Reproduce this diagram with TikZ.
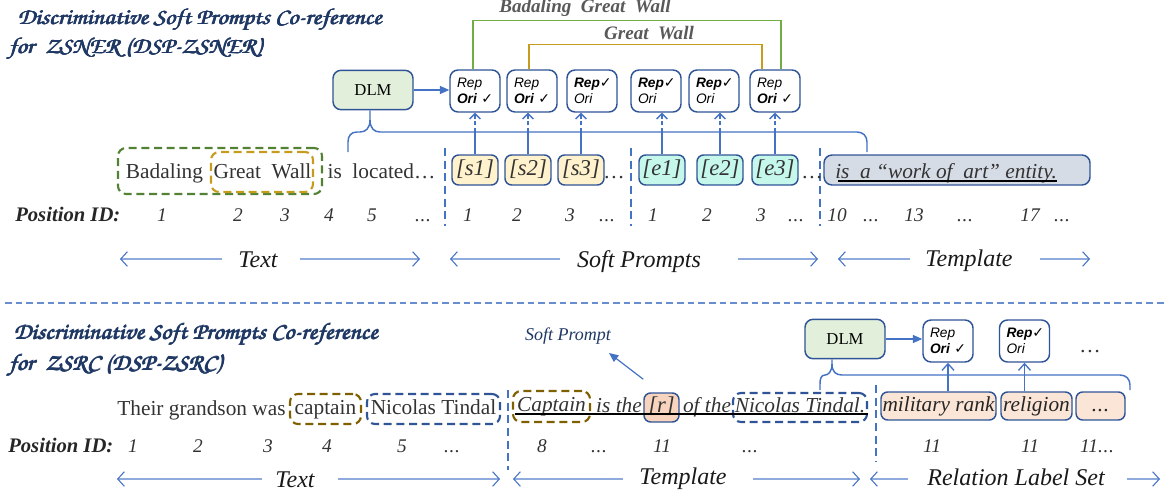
\documentclass[tikz,border=0pt]{standalone}
\usepackage[T1,TU]{fontenc}
\usepackage{fontspec}
\setmainfont{Liberation Serif}
\newfontfamily\sansfnt{Liberation Sans}
\newfontfamily\symfnt{DejaVu Sans}
\usepackage{graphicx}
\usetikzlibrary{arrows.meta,calc}
\newcommand\titlefnt{\fontencoding{T1}\fontfamily{pzc}\fontseries{mb}\fontshape{it}\selectfont}
\newcommand\pbold[1]{\rlap{#1}\kern0.3pt\rlap{#1}\kern0.3pt\rlap{\raisebox{0.2pt}{#1}}#1}
\newcommand\ttltext[1]{\scalebox{1.1}[1]{\pbold{#1}}}
\newcommand\fs[2]{\fontsize{#1}{#2}\selectfont}
\newcommand\chk{{\symfnt\upshape\fontsize{10.5}{12}\selectfont ✓}}
\newcommand\repA{\mbox{Rep}\\\mbox{\textbf{Ori}~\chk}}
\newcommand\repB{\mbox{\textbf{Rep}\chk}\\\mbox{Ori}}
\newcommand\ddd{.\kern0.5pt.\kern0.5pt.}
\definecolor{blueln}{HTML}{4472C4}
\definecolor{boxbd}{HTML}{2F5597}
\definecolor{navy}{HTML}{1F3864}
\definecolor{greenln}{HTML}{70AD47}
\definecolor{greendash}{HTML}{548235}
\definecolor{goldln}{HTML}{C69C1E}
\definecolor{brownd}{HTML}{7F6000}
\definecolor{dlmfill}{HTML}{E2EFDA}
\definecolor{yelfill}{HTML}{FFF2CC}
\definecolor{cyanfill}{HTML}{C5F8EA}
\definecolor{tplfill}{HTML}{D6DCE5}
\definecolor{peach}{HTML}{FBE5D6}
\definecolor{rfill}{HTML}{F8D3BE}
\definecolor{txtgray}{HTML}{333333}
\definecolor{lblln}{HTML}{8FAADC}
\tikzset{
 every node/.style={inner sep=0pt},
 bx/.style={draw=boxbd, line width=1.1pt, rounded corners=5pt},
 dlmbox/.style={bx, fill=dlmfill, rounded corners=6pt, minimum width=60pt, minimum height=29.5pt, font=\fs{12.5}{15}},
 repbox/.style={bx, fill=white, rounded corners=6pt, minimum width=37.5pt, minimum height=31.5pt, align=left, text width=27pt, font=\sansfnt\itshape\fs{10.3}{12}},
 boxtxt/.style={text height=11pt, text depth=3.5pt},
 sbox/.style={bx, boxtxt, fill=yelfill, minimum width=34.5pt, minimum height=22.5pt, font=\itshape\fs{17}{19}, text=txtgray},
 ebox/.style={sbox, fill=cyanfill},
 tplbox/.style={bx, fill=tplfill, rounded corners=6pt, minimum width=199.5pt, minimum height=22.5pt},
 relbox/.style={bx, boxtxt, fill=peach, minimum height=21pt, font=\itshape\fs{16}{18}, text=black!85},
 rbox/.style={bx, boxtxt, fill=rfill, minimum width=26.25pt, minimum height=21.75pt, font=\itshape\fs{17}{19}, text=txtgray},
 dbox/.style={boxtxt, line width=1.6pt, dash pattern=on 6pt off 3.5pt, rounded corners=6pt},
 txt/.style={font=\fs{16}{19}, text=txtgray},
 itxt/.style={font=\itshape\fs{16}{19}, text=txtgray},
 num/.style={font=\itshape\fs{14.5}{17}, text=txtgray, anchor=base},
 pid/.style={font=\bfseries\itshape\fs{15.5}{18}, text=black!85, anchor=base west},
 lbl/.style={font=\itshape\fs{18}{21}, text=black!90, anchor=base},
 lblarr/.style={draw=lblln, line width=1pt, -{Straight Barb[length=5pt,width=11pt,line width=0.8pt,color=blueln]}},
 ttl/.style={anchor=base west, text=navy, font=\titlefnt\fs{17}{20}},
 connlbl/.style={anchor=base, font=\bfseries\itshape\fs{14.3}{16}, text=black!65},
 brace/.style={draw=blueln, line width=1.1pt},
 upl/.style={draw=blueln, line width=1pt},
 uparrd/.style={upl, dash pattern=on 3pt off 2pt, -{Straight Barb[length=4pt,width=8pt]}},
 uparr/.style={upl, -{Straight Barb[length=5pt,width=9pt]}},
 farr/.style={draw=blueln, line width=0.9pt, -{Triangle[length=7pt,width=6pt]}},
 vdash/.style={draw=blueln, line width=1.2pt, dash pattern=on 6pt off 3.5pt},
 sepln/.style={draw=blueln!80, line width=1.5pt, dash pattern=on 5pt off 3pt},
 ul/.style={draw=black, line width=1.5pt},
}
\begin{document}
\begin{tikzpicture}[x=0.75pt,y=-0.75pt]
\useasboundingbox (0,0) rectangle (1167,492);
% ================= TOP =================
\node[ttl] (t1) at (17,25) {\ttltext{Discriminative Soft Prompts Co-reference}};
\node[ttl] (t2) at (8,54) {\ttltext{for\ \ ZSNER (DSP-ZSNER)}};

\node[dlmbox] (dlm1) at (373,90) {DLM};
\node[repbox] (r1) at (475,91) {\repA};
\node[repbox] (r2) at (532,91) {\repA};
\node[repbox] (r3) at (592,91) {\repB};
\node[repbox] (r4) at (656,91) {\repB};
\node[repbox] (r5) at (714,91) {\repB};
\node[repbox] (r6) at (775,91) {\repA};
\draw[farr] (dlm1.east) -- (dlm1.east -| r1.west);

\draw[draw=greenln, line width=1.1pt] ($(r1.north)+(-2,0)$) -- ++(0,-49) -| ($(r6.north)+(6,0)$);
\draw[draw=goldln, line width=1.1pt] ($(r2.north)+(-3,0)$) -- ++(0,-25) -| ($(r6.north)+(-13,0)$);
\node[connlbl] (cl1) at (585,13) {Badaling\ \ Great\ \ Wall};
\node[connlbl] (cl2) at (649,40) {Great\ \ Wall};

% text row
\node[dbox, draw=greendash, minimum width=153pt, minimum height=34.5pt] (gbx) at (220,171) {};
\node[dbox, draw=goldln, minimum width=76.5pt, minimum height=30pt] (ybx) at (262,172) {};
\node[txt, anchor=base] (w1) at (164.5,178) {Badaling};
\node[txt, anchor=base] (w2) at (262.5,178) {Great\ \ Wall};
\node[txt, anchor=base] (w3) at (381.5,178) {is\ \ located…};

\draw[vdash] (445,148) -- (445,226);
\draw[vdash] (631,148) -- (631,226);
\draw[vdash] (820,148) -- (820,226);

\node[sbox] (s1) at (475,170) {[s1]};
\node[sbox] (s2) at (528,170) {[s2]};
\node[sbox] (s3) at (581,170) {[s3]};
\node[txt, anchor=base] (d1) at (614,178) {…};
\node[ebox] (e1) at (662,170) {[e1]};
\node[ebox] (e2) at (720,170) {[e2]};
\node[ebox] (e3) at (775,170) {[e3]};
\node[txt, anchor=base] (d2) at (812,178) {…};
\node[tplbox] (tpl) at (957,170) {};
\node[itxt, anchor=base west] (tt) at (835,178) {is\ \ a “work of\ \ art” entity.};
\draw[ul] ($(tt.base west)+(3,2.5)$) -- ($(tt.base east)+(0,2.5)$);

% brace top
\coordinate (c1) at ($(dlm1.south)+(-3,0)$);
\draw[brace] (c1) -- (370,120) .. controls (370,128) and (366,132) .. (360,132) -- (357,132) .. controls (351,132) and (348,136) .. (348,142) -- (348,152);
\draw[brace] (370,120) .. controls (370,128) and (374,132) .. (380,132) -- (857,132) .. controls (863,132) and (867,136) .. (867,142) -- (867,152);

\foreach \s/\r in {s1/r1,s2/r2,s3/r3,e1/r4,e2/r5,e3/r6}{
  \draw[upl] (\s.north) -- (\s.north |- 0,132);
  \draw[uparrd] (\s.north |- 0,132) -- (\s.north |- \r.south);
}

% position ids
\node[pid] (p1) at (15,221) {Position ID:};
\foreach \x/\t in {162/1,238/2,285/3,329/4,372/5,423/\ddd,468/1,517/2,570/3,607/\ddd,653/1,707/2,761/3,796/\ddd,837/10,871/\ddd,914/13,965/\ddd,1030/17,1062/\ddd}{
  \node[num] at (\x,221) {\t};
}

% label arrows top
\coordinate (ta1) at (120,259); \coordinate (ta2) at (222,259);
\coordinate (ta3) at (300,259); \coordinate (ta4) at (420,259);
\node[lbl] (tl1) at (258,267) {Text};
\draw[lblarr] (ta2) -- (ta1); \draw[lblarr] (ta3) -- (ta4);
\coordinate (sa1) at (450,259); \coordinate (sa2) at (560,259);
\coordinate (sa3) at (738,259); \coordinate (sa4) at (818,259);
\node[lbl] (tl2) at (639,267) {Soft Prompts};
\draw[lblarr] (sa2) -- (sa1); \draw[lblarr] (sa3) -- (sa4);
\coordinate (pa1) at (838,259); \coordinate (pa2) at (910,259);
\coordinate (pa3) at (1040,259); \coordinate (pa4) at (1090,259);
\node[lbl] (tl3) at (969,266) {Template};
\draw[lblarr] (pa2) -- (pa1); \draw[lblarr] (pa3) -- (pa4);

% separator
\coordinate (sp1) at (5,303); \coordinate (sp2) at (1167,303);
\draw[sepln] (sp1) -- (sp2);

% ================= BOTTOM =================
\node[ttl] (t3) at (13,339) {\ttltext{Discriminative Soft Prompts Co-reference}};
\node[ttl] (t4) at (8,370) {\ttltext{for\ \ ZSRC (DSP-ZSRC)}};

\node[txt, anchor=base] (b1) at (201.5,415) {Their grandson was};
\node[dbox, txt, draw=brownd, minimum width=53.25pt, minimum height=22.5pt] (cap1) at (325.5,409) {captain};
\node[dbox, txt, draw=boxbd, minimum width=99.75pt, minimum height=22.5pt] (nt1) at (433.5,409) {Nicolas Tindal};

\draw[vdash] (508,390) -- (508,470);
\draw[vdash] (876,385) -- (876,462);

\node[dbox, itxt, draw=brownd, minimum width=57.75pt, minimum height=23.25pt] (cap2) at (551.5,406.5) {Captain};
\node[itxt, anchor=base] (is1) at (619,412) {is the};
\node[rbox] (rb) at (661.5,407.5) {[r]};
\node[itxt, anchor=base] (of1) at (707,412) {of the};
\node[dbox, itxt, draw=boxbd, minimum width=100.5pt, minimum height=21.75pt] (nt2) at (800,407.5) {Nicolas Tindal.};
\coordinate (u1) at (cap2.west |- 0,414);
\coordinate (u2) at (nt2.east |- 0,414);
\draw[ul] ([xshift=2.25pt]u1) -- (u2);

\node[anchor=base, font=\itshape\fs{13.5}{16}, text=navy] (spl) at (568,340) {Soft Prompt};
\coordinate (spa) at (609,353);
\draw[farr] ($(rb.north west)+(0,-13)$) -- (spa);

\node[dlmbox] (dlm2) at (845,339) {DLM};
\node[repbox] (ra) at (948,341) {\repA};
\node[repbox] (rbb) at (1024.5,341) {\repB};
\node[txt, anchor=base] (d3) at (1090,352) {…};
\draw[farr] (dlm2.east) -- (dlm2.east -| ra.west);

\node[relbox, minimum width=86.25pt] (mr) at (938.5,406) {military rank};
\node[relbox, minimum width=53.25pt] (rl) at (1036.5,406) {religion};
\node[relbox, minimum width=36.75pt] (rd) at (1100.5,406) {\ddd};
\draw[uparr] (ra.south |- mr.north) -- (ra.south);
\draw[uparr] (rbb.south |- rl.north) -- (rbb.south);

\coordinate (c2) at ($(dlm2.south)+(-13,0)$);
\draw[brace] (c2) -- (832,364) .. controls (832,372) and (828,375) .. (825,375) .. controls (821,375) and (820,379) .. (820,384) -- (820,390);
\draw[brace] (832,364) .. controls (832,372) and (836,375) .. (842,375) -- (1120,375) .. controls (1126,375) and (1130,379) .. (1130,385) -- (1130,390);

\node[pid] (p2) at (8,452) {Position ID:};
\foreach \x/\t in {133/1,198/2,268/3,327/4,402/5,452/\ddd,542/8,599/\ddd,662/11,750/\ddd,932/11,1030/11,1097/11\ddd}{
  \node[num] at (\x,452) {\t};
}

\coordinate (tb1) at (117,479); \coordinate (tb2) at (262,479);
\coordinate (tb3) at (338,479); \coordinate (tb4) at (500,479);
\node[lbl] (tl4) at (295,487) {Text};
\draw[lblarr] (tb2) -- (tb1); \draw[lblarr] (tb3) -- (tb4);
\coordinate (pb1) at (513,479); \coordinate (pb2) at (623,479);
\coordinate (pb3) at (753,479); \coordinate (pb4) at (860,479);
\node[lbl] (tl5) at (683,484) {Template};
\draw[lblarr] (pb2) -- (pb1); \draw[lblarr] (pb3) -- (pb4);
\coordinate (rb1) at (870,479); \coordinate (rb2) at (908,479);
\coordinate (rb3) at (1127,479); \coordinate (rb4) at (1160,479);
\node[lbl] (tl6) at (1016,485) {Relation Label Set};
\draw[lblarr] (rb2) -- (rb1); \draw[lblarr] (rb3) -- (rb4);
\end{tikzpicture}
\end{document}
